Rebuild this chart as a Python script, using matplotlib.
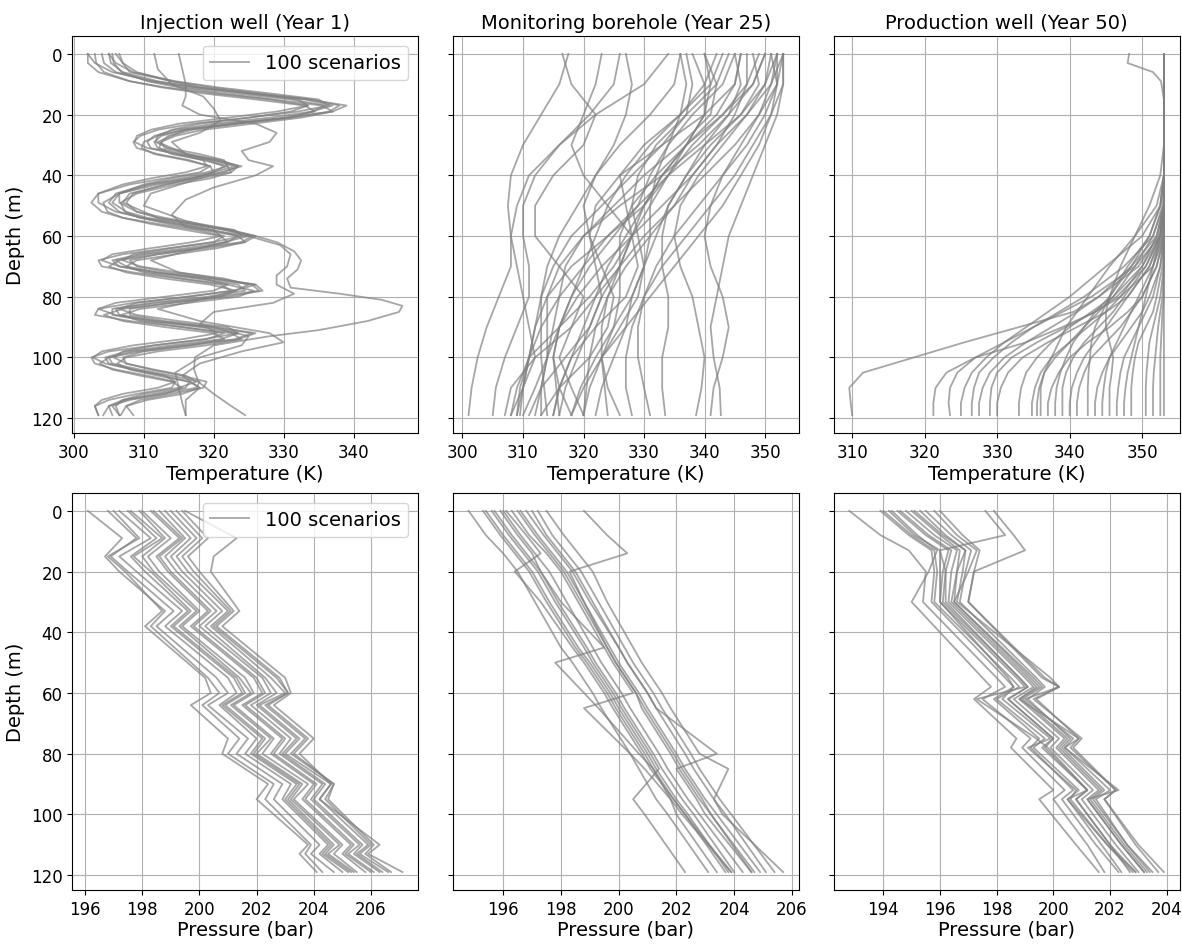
import numpy as np
import matplotlib.pyplot as plt
from matplotlib.ticker import MultipleLocator

# ---- temperature profiles (K), depth nodes in m ----
inj_temp_depth = [0, 3, 6, 9, 11, 13, 15, 17, 19, 21, 23, 25, 27, 29, 31, 33, 35, 37, 39, 41,
                  43, 46, 49, 52, 54, 56, 58, 60, 62, 64, 66, 68, 70, 72, 74, 76, 78, 80, 82,
                  84, 86, 88, 90, 92, 94, 96, 98, 100, 102, 104, 106, 108, 110, 112, 114, 116, 119]
inj_temp = [
    [304, 304.3, 306, 311, 316, 323, 331, 336, 334, 328, 320, 314.5, 311.5, 310.5, 311, 314.5, 319, 321.5, 320, 315.5,
     310.5, 306, 305, 306.5, 309.5, 314.5, 320, 323.5, 322, 316, 309.5, 305.5, 306.5, 311, 317.5, 323.5, 324.5, 319, 311,
     305.5, 305.5, 310.5, 318, 323.5, 321, 314, 307.5, 304.5, 305, 308.5, 313, 316.5, 316, 311.5, 307, 305, 305.5],
    [302, 302, 303.5, 308, 313, 320, 328, 333.5, 331, 325, 317, 312, 309.5, 308.5, 309, 312, 316.5, 319.5, 318, 313,
     308, 303.5, 302.5, 304, 307, 312, 317.5, 321.5, 320, 313.5, 307, 303.5, 304, 308.5, 315, 321, 322.5, 316.5, 308.5,
     303.5, 303, 308, 315.5, 321.5, 319, 311.5, 305, 302.5, 303, 306, 310.5, 314.5, 314, 309, 305, 303, 303.5],
    [306.5, 307, 309, 314, 319.5, 326.5, 334, 338, 336.5, 331, 323, 317, 313.5, 312.5, 313, 316.5, 321, 323.5, 322.5, 318,
     313, 308.5, 307.5, 309, 312, 317, 322.5, 326, 324.5, 319, 312, 308, 309, 313.5, 320, 326, 327, 322, 314,
     308, 308, 313, 320.5, 326, 323.5, 317, 310, 307, 307.5, 311, 315.5, 319, 318.5, 314, 309.5, 307.5, 308.5],
    [305, 306, 308.5, 314.5, 320.5, 328, 335, 336.5, 332, 325, 318, 314, 312, 311.7, 313.5, 318, 321.5, 322, 319, 314,
     310, 306.5, 306.5, 309, 313, 318, 323, 324, 320, 314, 308.5, 307, 309.5, 315, 321.5, 325, 323, 316, 309,
     306.5, 309, 315, 322, 323.5, 318.5, 311.5, 307, 305.7, 307.5, 311.5, 316, 317.5, 315, 310, 307, 306, 306.5],
    [303, 303.2, 304.3, 308, 312.5, 318.5, 326, 333, 334.5, 330, 323, 316, 312, 310, 309.7, 311.5, 316, 319.5, 320, 317,
     312, 306.5, 304.2, 304.8, 307, 311, 316, 321, 322, 318, 312, 306.5, 305, 307.5, 313, 319.5, 323.2, 321, 314,
     307, 304.3, 307, 313, 320, 321.5, 316.5, 309.5, 305, 303.7, 305.5, 309.5, 314, 315.5, 313, 308, 305, 304.2],
    [305.5, 305.7, 306.8, 310.5, 315, 321, 328.5, 335.5, 337, 332.5, 325.5, 318.5, 314.5, 312.5, 312.2, 314, 318.5, 322, 322.5, 319.5,
     314.5, 309, 306.7, 307.3, 309.5, 313.5, 318.5, 323.5, 324.5, 320.5, 314.5, 309, 307.5, 310, 315.5, 322, 325.7, 323.5, 316.5,
     309.5, 306.8, 309.5, 315.5, 322.5, 324, 319, 312, 307.5, 306.2, 308, 312, 316.5, 318, 315.5, 310.5, 307.5, 306.7],
    [302, 303, 305.5, 311.5, 317.5, 325, 332, 333.5, 329, 322, 315, 311, 309, 308.7, 310.5, 315, 318.5, 319, 316, 311,
     307, 303.5, 303.5, 306, 310, 315, 320, 321, 317, 311, 305.5, 304, 306.5, 312, 318.5, 322, 320, 313, 306,
     303.5, 306, 312, 319, 320.5, 315.5, 308.5, 304, 302.7, 304.5, 308.5, 313, 314.5, 312, 307, 304, 303, 303.5],
    [305, 305.3, 307, 312, 317.5, 325, 333.5, 339, 337, 330.5, 321.5, 315.5, 312.5, 311.5, 312, 315.5, 320.5, 323.5, 321.5, 316.5,
     311, 306.5, 305.5, 307.5, 310.5, 316, 322, 325.5, 324, 317.5, 310.5, 306, 307.5, 312, 319, 325.5, 326.5, 320.5, 312,
     306, 306.5, 311.5, 319.5, 325.5, 323, 315.5, 308.5, 305, 305.5, 309.5, 314, 318, 317.5, 312.5, 307.5, 305.5, 306.5],
]
# the few profiles that leave the main band
inj_out1_depth = [0, 6, 11, 15, 17, 21, 25, 29, 33, 37, 41, 46, 49, 54, 58, 60, 62, 65, 68, 71,
                  74, 77, 79, 81, 83, 85, 88, 91, 93, 96, 100, 104, 108, 112, 116, 119]
inj_out1 = [306, 308, 318, 333, 337, 331, 316, 312, 316, 323, 317, 308, 307, 312, 322, 326, 329, 331.5, 332.5, 332,
            330.5, 331, 338, 344, 347, 346.5, 342, 335, 328, 320, 317.3, 317.2, 317.8, 320, 322.5, 324.5]
inj_out2_depth = [0, 5, 10, 14, 17, 20, 23, 26, 29, 32, 35, 37, 40, 44, 48, 53, 57, 60, 63, 66,
                  70, 73, 76, 79, 82, 85, 89, 93, 96, 100, 105, 110, 115, 119]
inj_out2 = [315, 315.5, 316, 316, 315.5, 318, 326, 329, 328, 324, 325, 328.5, 326, 320, 316, 314, 316, 325, 329.5, 331,
            330.5, 329, 329, 331.5, 328.5, 320, 318, 325, 324, 318, 314.5, 315, 315.5, 316]
inj_out3_depth = [0, 5, 10, 14, 18, 22, 26, 29, 33, 37, 41, 46, 50, 55, 60, 64, 68, 72, 76, 80,
                  84, 88, 92, 95, 98, 102, 106, 110, 114, 119]
inj_out3 = [311.5, 312, 314, 318.5, 320, 321, 318, 314, 316, 324, 318, 311, 310, 316, 325, 318, 311, 315, 326, 320,
            312, 318, 328, 330, 324, 318, 315.5, 318, 316, 316]

mon_temp_depth = [0, 10, 20, 30, 40, 50, 60, 70, 80, 90, 100, 110, 119]
mon_temp = [
    [334, 330, 322, 316, 311, 309, 308, 308, 306, 304, 302.5, 301.5, 301],
    [316.5, 318, 322, 320, 315, 312, 312, 316, 320, 318, 312, 308, 307],
    [317.5, 316, 313, 310, 308, 307.5, 308, 309, 310, 311, 312, 310, 308],
    [353, 353, 352, 350, 348, 346, 344, 343, 342, 341, 341.5, 342.5, 342.7],
    [352, 351, 349, 346, 343, 341, 340, 341, 343, 344, 343, 341.5, 341],
    [351, 350, 347, 343, 339, 336, 335, 336, 338, 339, 340, 339.5, 338.6],
    [350, 348, 343, 337, 333, 330, 327, 324, 322, 320, 318, 316, 315],
    [346, 345, 340, 333, 326, 322, 321, 322, 323, 321, 317, 313, 311],
    [353, 351, 347, 342, 338, 335, 331, 327, 324, 322, 321, 320.5, 320],
    [340, 342, 341, 336, 330, 325, 320, 317, 316, 315, 314, 312, 310],
    [340, 341, 340, 337, 334, 330, 324, 318, 314, 312, 311, 310, 309],
    [336, 337, 336, 334, 331, 329, 325, 321, 318, 316, 315, 316, 318],
    [344, 342, 337, 332, 329, 328, 329, 330, 329, 326, 323, 324, 326],
    [352, 352, 350, 347, 343, 339, 335, 332, 330, 329, 329, 330, 331],
    [336, 335, 331, 326, 322, 320, 321, 323, 325, 324, 321, 316, 313],
    [348, 349, 346, 340, 334, 329, 324, 320, 316, 313, 311, 309.5, 309],
    [323, 322, 320, 318, 320, 324, 328, 329, 327, 322, 318, 316, 315],
    [351, 352, 351, 348, 345, 341, 337, 333, 330, 328, 327, 327, 328],
    [343, 341, 336, 330, 326, 327, 328, 326, 322, 318, 316, 318, 320],
    [345, 346, 344, 340, 337, 334, 332, 330, 328, 327, 325, 323, 322],
    [326, 325, 321, 316, 312, 310, 310, 311, 311, 309, 307, 305.5, 305],
    [350, 348, 344, 339, 333, 326, 320, 316, 314, 314, 314, 313, 312],
    [338, 340, 340, 337, 333, 330, 328, 325, 321, 316, 311, 309, 308],
    [353, 352, 349, 345, 340, 335, 330, 326, 323, 321, 319, 317, 316],
    [347, 347, 345, 342, 338, 333, 328, 323, 319, 316, 314, 313, 313],
    [342, 340, 336, 331, 327, 324, 322, 320, 318, 316, 315, 315.5, 316],
    [346, 345, 342, 337, 332, 328, 326, 326, 326, 325, 323, 321, 320],
    [352, 350, 346, 341, 337, 334, 333, 333, 334, 334, 333, 333, 333.5],
    [349, 347, 343, 338, 334, 331, 328, 326, 324, 323, 323, 323.5, 324],
    [327, 328, 327, 325, 322, 319, 316, 314, 313, 313, 313, 313.5, 314],
    [353, 353, 351, 349, 346, 343, 339, 335, 331, 327, 323, 320, 318],
    [345, 343, 338, 334, 332, 331, 331, 330, 328, 325, 322, 319.5, 318],
    [337, 338, 337, 333, 328, 323, 318, 315, 313, 312, 311, 310, 309.5],
]

prod_temp_depth = [0, 10, 20, 30, 40, 50, 60, 70, 80, 85, 90, 95, 100, 105, 110, 115, 119]
prod_temp = [
    [353, 353, 353, 353, 353, 353, 352.2, 349.5, 344, 340.5, 333, 325.5, 318.5, 311.5, 309.6, 309.8, 310],
    [353, 353, 353, 353, 353, 353, 353, 351.5, 347, 343.5, 339, 334, 327, 323, 321.5, 321.2, 321.2],
    [353, 353, 353, 353, 353, 353, 352.5, 349, 343, 339, 335, 331, 327, 324.5, 323.5, 323.3, 323.5],
    [353, 353, 353, 353, 353, 352.5, 350, 345, 340, 337, 334, 331, 328.5, 326.5, 325.5, 325, 325],
    [353, 353, 353, 353, 353, 353, 352, 348.5, 344, 341, 337.5, 334, 331, 329, 328, 327.5, 327.5],
    [353, 353, 353, 353, 353, 353, 352.8, 351, 348, 345, 341, 337, 333.5, 331.5, 330.5, 330, 330],
    [353, 353, 353, 353, 353, 353, 352.5, 350, 346, 343, 340, 337.5, 335.5, 334, 333.3, 333, 333],
    [353, 353, 353, 353, 353, 352.8, 351.5, 349, 346, 344, 342, 340, 338, 336.5, 335.8, 335.5, 335.5],
    [353, 353, 353, 353, 353, 353, 353, 352, 350, 348, 345.5, 342.5, 340, 338.5, 337.5, 337, 337],
    [353, 353, 353, 353, 353, 353, 352.5, 350.5, 347.5, 346, 344, 342, 340.5, 339.5, 339, 339, 339],
    [353, 353, 353, 353, 353, 353, 353, 352, 350, 348.5, 347, 345, 343, 342, 341.3, 341, 341],
    [353, 353, 353, 353, 353, 352.5, 351, 348, 345.5, 344.5, 343.5, 343, 342.8, 342.6, 342.5, 342.5, 342.5],
    [353, 353, 353, 353, 353, 353, 352.8, 351.5, 349.5, 348.5, 347.5, 346.5, 345.5, 345, 344.7, 344.5, 344.5],
    [353, 353, 353, 353, 353, 353, 353, 352.5, 351.5, 350.5, 349.5, 348.5, 347.5, 347, 346.7, 346.5, 346.5],
    [353, 353, 353, 353, 353, 353, 353, 352.8, 352, 351.5, 350.5, 349.5, 349, 348.7, 348.5, 348.5, 348.5],
    [353, 353, 353, 353, 353, 353, 353, 353, 352.5, 352, 351.5, 351, 350.8, 350.6, 350.5, 350.5, 350.5],
    [353, 353, 353, 353, 353, 353, 353, 353, 353, 352.8, 352.7, 352.6, 352.5, 352.5, 352.5, 352.5, 352.5],
    [353, 353, 353, 353, 353, 352, 349, 345.5, 342.5, 341, 339.5, 338.5, 337.5, 336.5, 336, 336, 336],
    [353, 353, 353, 353, 352.5, 351, 349, 347, 345.5, 345, 345, 345.5, 346, 345.8, 345.5, 345.5, 345.5],
    [353, 353, 353, 353, 353, 352.5, 351, 348.5, 345.5, 343.5, 342, 340.5, 339.5, 338.7, 338.2, 338, 338],
    [353, 353, 353, 353, 353, 353, 352.5, 351, 348, 346.5, 345, 343.5, 342, 341, 340.3, 340, 340],
    [353, 353, 353, 353, 353, 353, 353, 352.5, 351, 350, 348.5, 347, 345.5, 344.5, 343.8, 343.5, 343.5],
    [353, 353, 353, 353, 353, 353, 352.5, 351.5, 350.5, 350, 349.5, 349, 348.5, 348, 347.7, 347.5, 347.5],
    [353, 353, 353, 353, 353, 353, 352, 350, 347, 345, 342.5, 340, 337.5, 336, 335.2, 334.8, 334.8],
    [353, 353, 353, 353, 353, 353, 352.5, 350.5, 346.5, 343.5, 339.5, 335.5, 332, 330, 329.2, 329, 329],
    [353, 353, 353, 353, 353, 353, 353, 353, 352.8, 352.5, 352.2, 352, 351.8, 351.6, 351.5, 351.5, 351.5],
    [353, 353, 353, 353, 353, 353, 351.5, 347.5, 342, 338.5, 335, 332, 329.5, 327.5, 326.8, 326.5, 326.5],
]
# the one profile with a kink just below the top
prod_temp_top_depth = [0, 3, 6, 9, 15, 119]
prod_temp_top = [348.2, 348.0, 351.5, 352.6, 353, 353]

# ---- pressure profiles (bar) ----
inj_pres_depth = [0, 9, 15, 20, 33, 38, 55, 60, 64, 75, 80, 90, 95, 110, 113, 119]
inj_pres = [
    [198.0, 199.0, 198.2, 198.6, 200.0, 199.4, 201.6, 201.9, 201.2, 202.6, 202.2, 203.8, 203.3, 205.0, 204.7, 205.5],
    [197.2, 198.3, 197.2, 197.8, 199.4, 198.8, 201.0, 201.3, 200.7, 202.0, 201.6, 203.2, 202.9, 204.5, 204.2, 205.0],
    [198.6, 199.5, 198.8, 199.2, 200.6, 200.0, 202.2, 202.5, 201.8, 203.2, 202.8, 204.3, 203.9, 205.6, 205.2, 206.1],
    [196.1, 197.3, 196.7, 197.2, 198.8, 198.3, 200.3, 200.7, 200.1, 201.4, 201.0, 202.6, 202.3, 203.9, 203.7, 204.3],
    [199.4, 200.3, 199.6, 200.0, 201.2, 200.6, 202.8, 203.1, 202.4, 203.8, 203.3, 204.7, 204.5, 206.1, 205.8, 206.7],
    [197.6, 198.7, 197.7, 198.3, 199.7, 199.1, 201.3, 201.6, 200.9, 202.3, 201.9, 203.5, 203.1, 204.7, 204.4, 205.3],
    [198.3, 199.3, 198.5, 198.9, 200.3, 199.7, 201.9, 202.2, 201.5, 202.9, 202.5, 204.0, 203.6, 205.3, 205.0, 205.8],
    [199.0, 199.9, 199.2, 199.6, 201.0, 200.4, 202.5, 203.0, 202.1, 203.5, 203.0, 204.6, 204.2, 205.9, 205.5, 206.4],
    [199.5, 201.3, 200.5, 200.4, 201.4, 200.8, 203.0, 203.2, 202.6, 204.0, 203.5, 204.6, 204.2, 206.3, 205.9, 207.1],
    [197.0, 197.9, 196.8, 197.4, 198.7, 198.1, 200.2, 200.4, 199.7, 201.0, 200.8, 202.4, 202.0, 203.8, 203.5, 204.1],
    [197.9, 198.8, 198.0, 198.4, 199.9, 199.3, 201.4, 201.8, 201.1, 202.5, 202.0, 203.6, 203.2, 204.9, 204.5, 205.4],
    [198.8, 199.7, 199.0, 199.4, 200.8, 200.2, 202.3, 202.7, 202.0, 203.4, 202.9, 204.4, 204.0, 205.7, 205.4, 206.3],
    [197.5, 198.5, 197.6, 198.1, 199.6, 199.0, 201.2, 201.5, 200.8, 202.2, 201.8, 203.4, 203.0, 204.6, 204.3, 205.2],
    [198.4, 199.4, 198.6, 199.0, 200.4, 199.8, 202.0, 202.3, 201.6, 203.0, 202.6, 204.1, 203.7, 205.4, 205.1, 206.0],
    [196.8, 197.8, 196.9, 197.5, 199.1, 198.5, 200.6, 201.0, 200.3, 201.7, 201.3, 202.9, 202.6, 204.2, 203.9, 204.7],
    [199.2, 200.1, 199.4, 199.8, 201.1, 200.5, 202.7, 203.1, 202.3, 203.7, 203.2, 204.7, 204.4, 206.0, 205.6, 206.6],
]

mon_pres_depth = [0, 8, 14, 20, 30, 45, 50, 60, 65, 80, 85, 95, 100, 119]
mon_pres = [
    [196.0, 196.6, 197.1, 197.6, 198.2, 199.1, 199.4, 200.1, 200.4, 201.4, 201.7, 202.4, 202.8, 204.3],
    [195.3, 195.9, 196.4, 196.9, 197.5, 198.5, 198.9, 199.6, 199.9, 200.9, 201.2, 201.9, 202.3, 203.7],
    [196.6, 197.2, 197.7, 198.2, 198.8, 199.7, 200.0, 200.7, 201.0, 202.0, 202.3, 203.0, 203.4, 204.9],
    [194.8, 195.4, 196.0, 196.5, 197.1, 198.0, 198.4, 199.1, 199.4, 200.4, 200.7, 201.3, 201.7, 203.1],
    [197.2, 197.7, 198.2, 198.7, 199.3, 200.2, 200.5, 201.2, 201.5, 202.5, 202.8, 203.5, 203.9, 205.4],
    [198.8, 199.6, 200.3, 198.3, 198.8, 199.6, 199.9, 200.6, 200.8, 201.8, 202.1, 202.8, 203.2, 204.6],
    [195.9, 196.5, 197.0, 197.3, 198.0, 199.5, 197.8, 198.8, 199.3, 200.7, 201.2, 201.8, 202.0, 203.4],
    [196.3, 196.9, 197.5, 198.0, 198.6, 199.5, 199.8, 200.5, 198.8, 200.4, 200.9, 201.8, 202.2, 203.9],
    [196.8, 197.4, 197.9, 198.4, 199.0, 200.0, 200.3, 201.0, 201.3, 203.4, 202.0, 202.7, 203.0, 204.6],
    [195.6, 196.2, 196.7, 197.2, 197.8, 198.8, 199.1, 199.8, 200.1, 201.1, 201.4, 200.5, 200.9, 202.3],
    [197.5, 198.1, 198.6, 199.1, 199.6, 200.5, 200.8, 201.5, 201.8, 202.8, 203.8, 203.3, 203.6, 205.7],
    [196.1, 196.8, 197.3, 196.4, 197.3, 198.4, 198.8, 199.5, 199.8, 200.8, 201.1, 201.9, 202.3, 203.9],
    [195.7, 196.3, 196.8, 197.3, 197.9, 198.9, 199.2, 199.9, 200.2, 201.2, 201.5, 202.2, 202.6, 204.0],
    [196.5, 197.1, 197.6, 198.1, 198.7, 199.6, 199.9, 200.6, 200.9, 201.9, 202.2, 202.9, 203.2, 204.7],
    [197.0, 197.5, 198.0, 198.5, 199.1, 200.0, 200.3, 201.0, 201.3, 202.3, 202.6, 203.3, 203.7, 205.1],
    [195.4, 196.0, 196.5, 197.0, 197.6, 198.6, 199.0, 199.7, 200.0, 201.0, 201.3, 202.0, 202.4, 203.8],
]

prod_pres_depth = [0, 8, 13, 20, 30, 55, 58, 62, 75, 78, 92, 95, 110, 119]
prod_pres = [
    [194.8, 195.8, 196.6, 196.4, 196.3, 199.0, 199.3, 198.6, 200.2, 199.9, 201.4, 201.0, 202.2, 203.0],
    [194.0, 195.0, 195.8, 195.9, 195.8, 198.5, 198.8, 198.0, 199.7, 199.3, 200.9, 200.5, 201.7, 202.4],
    [195.5, 196.4, 197.1, 196.9, 196.7, 199.4, 199.7, 199.1, 200.6, 200.3, 201.8, 201.4, 202.6, 203.4],
    [192.8, 193.9, 194.9, 195.5, 195.4, 198.0, 198.3, 197.5, 199.2, 198.9, 200.4, 200.0, 201.2, 201.8],
    [196.0, 196.8, 197.4, 197.2, 197.0, 199.7, 200.2, 199.4, 200.9, 200.6, 202.2, 201.8, 203.0, 203.9],
    [197.6, 198.3, 196.0, 196.2, 196.2, 198.8, 199.1, 198.4, 200.0, 199.6, 201.2, 200.8, 202.0, 202.7],
    [197.9, 198.6, 199.0, 197.2, 197.0, 199.6, 200.2, 199.3, 201.0, 200.7, 202.2, 201.8, 202.9, 203.7],
    [194.3, 195.2, 195.9, 195.6, 195.0, 197.5, 197.8, 197.2, 198.7, 198.5, 200.0, 199.5, 200.8, 201.6],
    [195.1, 196.1, 196.9, 196.8, 196.6, 199.9, 200.2, 199.0, 200.7, 200.4, 202.0, 201.5, 202.6, 203.5],
    [194.5, 195.5, 196.3, 196.1, 196.0, 198.7, 199.0, 197.3, 199.4, 199.8, 201.2, 200.5, 201.9, 202.8],
    [195.8, 196.6, 197.3, 197.0, 196.5, 199.2, 199.5, 198.8, 200.9, 200.4, 202.3, 201.2, 202.4, 203.2],
    [194.2, 195.1, 196.0, 196.0, 196.0, 198.4, 198.6, 198.2, 199.9, 199.1, 200.8, 200.6, 201.9, 202.9],
    [194.6, 195.6, 196.4, 196.2, 196.1, 198.8, 199.1, 198.4, 200.0, 199.7, 201.2, 200.8, 202.0, 202.9],
    [195.3, 196.2, 196.9, 196.6, 196.4, 199.1, 199.4, 198.8, 200.4, 200.1, 201.6, 201.2, 202.4, 203.2],
    [195.0, 196.0, 196.7, 196.6, 196.5, 199.3, 199.6, 198.9, 200.5, 200.2, 201.7, 201.3, 202.5, 203.3],
    [193.9, 194.9, 195.7, 195.8, 195.7, 198.3, 198.6, 197.9, 199.5, 199.2, 200.7, 200.3, 201.5, 202.3],
]

titles = ['Injection well (Year 1)', 'Monitoring borehole (Year 25)', 'Production well (Year 50)']

LINE = dict(color='grey', alpha=0.7, lw=1.3)


def draw_profiles(ax, depth, curves, label=None):
    for i, c in enumerate(curves):
        ax.plot(c, depth, label=label if i == 0 else None, **LINE)


fig, axes = plt.subplots(2, 3, figsize=(11.82, 9.45), dpi=100, sharey=True)
fig.subplots_adjust(left=0.061, right=0.998, top=0.961, bottom=0.057,
                    wspace=0.1, hspace=0.15)

draw_profiles(axes[0, 0], inj_temp_depth, inj_temp, '100 scenarios')
axes[0, 0].plot(inj_out1, inj_out1_depth, **LINE)
axes[0, 0].plot(inj_out2, inj_out2_depth, **LINE)
axes[0, 0].plot(inj_out3, inj_out3_depth, **LINE)
draw_profiles(axes[0, 1], mon_temp_depth, mon_temp)
draw_profiles(axes[0, 2], prod_temp_depth, prod_temp)
axes[0, 2].plot(prod_temp_top, prod_temp_top_depth, **LINE)

draw_profiles(axes[1, 0], inj_pres_depth, inj_pres, '100 scenarios')
draw_profiles(axes[1, 1], mon_pres_depth, mon_pres)
draw_profiles(axes[1, 2], prod_pres_depth, prod_pres)

axes[0, 0].invert_yaxis()
axes[0, 0].set_yticks(np.arange(0, 121, 20))

for j in range(3):
    axes[0, j].set_title(titles[j], fontsize=14)
    axes[0, j].set_xlabel('Temperature (K)', fontsize=14, labelpad=2)
    axes[0, j].xaxis.set_major_locator(MultipleLocator(10))
    axes[1, j].set_xlabel('Pressure (bar)', fontsize=14, labelpad=1)
    axes[1, j].xaxis.set_major_locator(MultipleLocator(2))
for ax in axes.flat:
    ax.grid(True)
    ax.tick_params(labelsize=12)
for i in range(2):
    axes[i, 0].set_ylabel('Depth (m)', fontsize=14)
    axes[i, 0].legend(loc='upper right', fontsize=14)

plt.savefig('out.png')
